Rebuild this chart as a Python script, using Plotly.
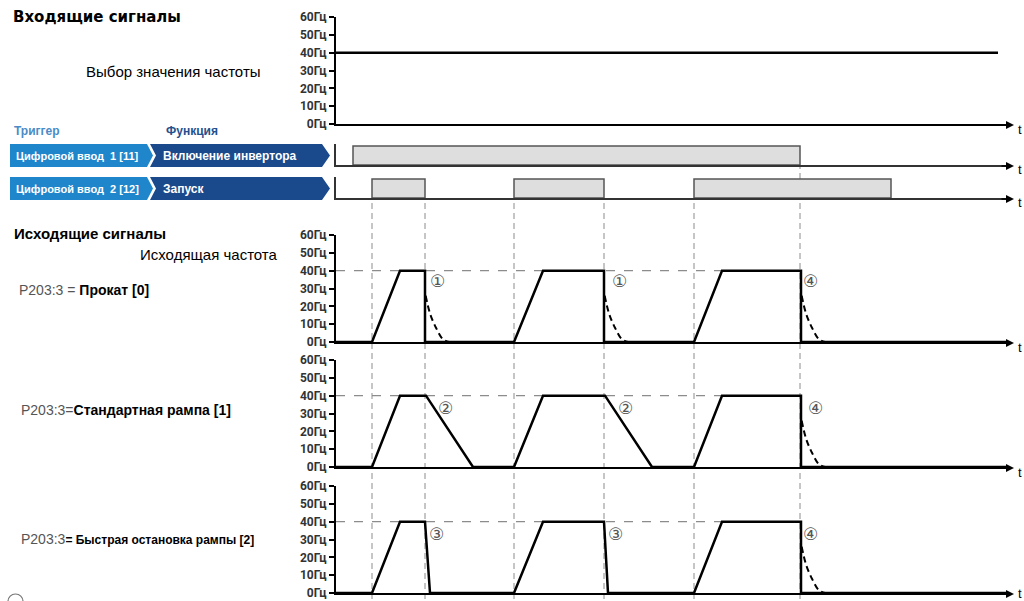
import plotly.graph_objects as go

W, H = 1024, 601


def PX(x):
    return x / W


def PY(y):
    return 1 - y / H


# ---------------- data ----------------
TIME_END = 67.0
FREQ_TICKS = [0, 10, 20, 30, 40, 50, 60]
FREQ_TICK_TEXT = ["0Гц", "10Гц", "20Гц", "30Гц", "40Гц", "50Гц", "60Гц"]

SETPOINT_T = [0, 66.2]
SETPOINT_F = [40, 40]

ENABLE_ON = 1.7
ENABLE_OFF = 46.4
START_ON = [3.6, 17.8, 35.8]
START_OFF = [8.9, 26.8, 55.5]
EDGE_TIMES = [3.6, 8.9, 17.8, 26.8, 35.8]

COAST_T = [0, 3.6, 6.4, 8.9, 8.9, 17.8, 20.7, 26.8, 26.8, 35.8, 38.6, 46.5, 46.5, 67.0]
COAST_F = [0, 0, 40, 40, 0, 0, 40, 40, 0, 0, 40, 40, 0, 0]
RAMP_T = [0, 3.6, 6.4, 9.0, 13.7, 17.8, 20.7, 26.9, 31.6, 35.8, 38.6, 46.5, 46.5, 67.0]
RAMP_F = [0, 0, 40, 40, 0, 0, 40, 40, 0, 0, 40, 40, 0, 0]
QSTOP_T = [0, 3.6, 6.4, 8.9, 9.4, 17.8, 20.7, 26.8, 27.2, 35.8, 38.6, 46.5, 46.5, 67.0]
QSTOP_F = [0, 0, 40, 40, 0, 0, 40, 40, 0, 0, 40, 40, 0, 0]

DECAY_DT = [0.07, 0.5, 1.1, 1.8, 2.4]
DECAY_F = [26, 16, 8, 1.5, 0]
COAST_STOPS = {"p1": [8.9, 26.8, 46.5], "p2": [46.5], "p3": [46.5]}

REF_T = [0, 46.5]
REF_F = [40, 40]

MARKS = {
    "p1": [("①", 10.1, 34), ("①", 28.3, 34), ("④", 47.4, 34)],
    "p2": [("②", 10.9, 33), ("②", 28.9, 33), ("④", 47.9, 33)],
    "p3": [("③", 10.0, 33), ("③", 27.9, 33), ("④", 47.4, 33)],
}

# ---------------- layout geometry (pixels) ----------------
X_LEFT, X_RIGHT = 336, 1006
PANELS = [
    # key, kind, baseline px, top px, t-label offset
    ("top", "freq", 124, 17, 5),
    ("in1", "dig", 165, 144, 5),
    ("in2", "dig", 198, 177, 5),
    ("p1", "freq", 342, 235, 5),
    ("p2", "freq", 467, 360, 5),
    ("p3", "freq", 593, 486, 0),
]

fig = go.Figure()
layout = dict(
    width=W, height=H, margin=dict(l=0, r=0, t=0, b=0, autoexpand=False),
    paper_bgcolor="white", plot_bgcolor="rgba(0,0,0,0)",
    showlegend=False,
)
axmap = {}
annotations = []
shapes = []

for i, (key, kind, base, top, toff) in enumerate(PANELS, start=1):
    xn = "xaxis" if i == 1 else f"xaxis{i}"
    yn = "yaxis" if i == 1 else f"yaxis{i}"
    xs = "x" if i == 1 else f"x{i}"
    ys = "y" if i == 1 else f"y{i}"
    axmap[key] = (xs, ys)
    layout[xn] = dict(
        domain=[PX(X_LEFT), PX(X_RIGHT)], range=[0, TIME_END], anchor=ys,
        showline=True, linecolor="black" if kind == "freq" else "#333",
        linewidth=2 if kind == "freq" else 1.6,
        showgrid=False, zeroline=False, showticklabels=False, ticks="",
    )
    if kind == "freq":
        layout[yn] = dict(
            domain=[PY(base), PY(top)], range=[0, 60], anchor=xs,
            showline=True, linecolor="black", linewidth=2,
            ticks="outside", ticklen=5, tickwidth=1.5, tickcolor="black",
            tickvals=FREQ_TICKS, ticktext=FREQ_TICK_TEXT,
            tickfont=dict(family="Roboto, Liberation Sans, sans-serif", size=12,
                          color="#333", weight="bold"),
            showgrid=False, zeroline=False,
        )
    else:
        layout[yn] = dict(
            domain=[PY(base), PY(top)], range=[0, 1.1], anchor=xs,
            showline=True, linecolor="#333", linewidth=1.6,
            ticks="", showticklabels=False, showgrid=False, zeroline=False,
        )
    # arrow at the end of time axis + 't'
    annotations.append(dict(
        x=PX(1014), y=PY(base + 1), xref="paper", yref="paper", text="",
        showarrow=True, ax=-14, ay=0, arrowhead=2, arrowsize=1, arrowwidth=1.6,
        arrowcolor="black",
    ))
    annotations.append(dict(
        x=PX(1016), y=PY(base + toff), xref="paper", yref="paper", text="t",
        showarrow=False, xanchor="left", yanchor="middle",
        font=dict(family="Liberation Sans", size=13, color="black"),
    ))

# ---------------- traces ----------------
xs, ys = axmap["top"]
fig.add_trace(go.Scatter(x=SETPOINT_T, y=SETPOINT_F, mode="lines", xaxis=xs, yaxis=ys,
                         line=dict(color="black", width=2.5), hoverinfo="skip"))

# digital inputs
xs, ys = axmap["in1"]
fig.add_trace(go.Scatter(x=[ENABLE_ON, ENABLE_ON, ENABLE_OFF, ENABLE_OFF, ENABLE_ON],
                         y=[0, 1, 1, 0, 0], mode="lines", fill="toself",
                         fillcolor="#dedede", line=dict(color="#555", width=1.5),
                         xaxis=xs, yaxis=ys, hoverinfo="skip"))
xs, ys = axmap["in2"]
for on, off in zip(START_ON, START_OFF):
    fig.add_trace(go.Scatter(x=[on, on, off, off, on], y=[0, 1, 1, 0, 0], mode="lines",
                             fill="toself", fillcolor="#dedede", line=dict(color="#555", width=1.5),
                             xaxis=xs, yaxis=ys, hoverinfo="skip"))

# outputs
for key, tt, ff in [("p1", COAST_T, COAST_F), ("p2", RAMP_T, RAMP_F), ("p3", QSTOP_T, QSTOP_F)]:
    xs, ys = axmap[key]
    fig.add_trace(go.Scatter(x=REF_T, y=REF_F, mode="lines", xaxis=xs, yaxis=ys,
                             line=dict(color="#8c8c8c", width=1.3, dash="dash"), hoverinfo="skip"))
    for t0 in COAST_STOPS[key]:
        fig.add_trace(go.Scatter(x=[t0 + d for d in DECAY_DT], y=DECAY_F, mode="lines",
                                 xaxis=xs, yaxis=ys,
                                 line=dict(color="black", width=2, dash="6px,4px"),
                                 line_shape="spline", hoverinfo="skip"))
    fig.add_trace(go.Scatter(x=tt, y=ff, mode="lines", xaxis=xs, yaxis=ys,
                             line=dict(color="black", width=2.5), hoverinfo="skip"))
    for txt, t, f in MARKS[key]:
        annotations.append(dict(x=t, y=f, xref=xs, yref=ys, text=txt, showarrow=False,
                                font=dict(family="DejaVu Sans", size=17, color="#555")))

# vertical dashed guide lines
for t in EDGE_TIMES:
    shapes.append(dict(type="line", xref="x", yref="paper", x0=t, x1=t,
                       y0=PY(599), y1=PY(199), line=dict(color="#8c8c8c", width=1, dash="6px,4px"),
                       layer="below"))
shapes.append(dict(type="line", xref="x", yref="paper", x0=ENABLE_OFF, x1=ENABLE_OFF,
                   y0=PY(599), y1=PY(166), line=dict(color="#8c8c8c", width=1, dash="6px,4px"),
                   layer="below"))

# chevron banners
LIGHT = "#1f86cc"
DARK = "#1b4a8c"
for top_px, bot_px in [(144, 167), (177, 200)]:
    mid = (top_px + bot_px) / 2
    p1 = f"M {PX(10)},{PY(top_px)} L {PX(147)},{PY(top_px)} L {PX(153)},{PY(mid)} L {PX(147)},{PY(bot_px)} L {PX(10)},{PY(bot_px)} Z"
    p2 = f"M {PX(150)},{PY(top_px)} L {PX(322)},{PY(top_px)} L {PX(330)},{PY(mid)} L {PX(322)},{PY(bot_px)} L {PX(150)},{PY(bot_px)} L {PX(156)},{PY(mid)} Z"
    shapes.append(dict(type="path", xref="paper", yref="paper", path=p1, fillcolor=LIGHT,
                       line=dict(width=0), layer="below"))
    shapes.append(dict(type="path", xref="paper", yref="paper", path=p2, fillcolor=DARK,
                       line=dict(width=0), layer="below"))

# partially visible circled marker at the bottom-left edge
shapes.append(dict(type="circle", xref="paper", yref="paper",
                   x0=PX(8), x1=PX(23), y0=PY(609), y1=PY(594),
                   line=dict(color="#777", width=1.2), layer="above"))


def label(x, y, text, size, color="black", family="Liberation Sans", bold=False):
    annotations.append(dict(
        x=PX(x), y=PY(y), xref="paper", yref="paper", text=f"<b>{text}</b>" if bold else text,
        showarrow=False, xanchor="left", yanchor="middle",
        font=dict(family=family, size=size, color=color),
    ))


label(11, 17, "Входящие сигналы", 15, family="DejaVu Sans", bold=True)
label(84, 71, "Выбор значения частоты", 15)
label(12, 131, "Триггер", 12, color="#4a8cc6", bold=True)
label(164, 131, "Функция", 12, color="#24508e", bold=True)
label(14, 156, "Цифровой ввод  1 [11]", 11, color="white", bold=True)
label(161, 156, "Включение инвертора", 12, color="white", bold=True)
label(14, 189, "Цифровой ввод  2 [12]", 11, color="white", bold=True)
label(161, 189, "Запуск", 12, color="white", bold=True)
label(12, 233, "Исходящие сигналы", 15, bold=True)
label(138, 254, "Исходящая частота", 15)
label(17, 290, "<span style='color:#555'>P203:3 = </span><b>Прокат [0]</b>", 14)
label(19, 410, "<span style='color:#555'>P203:3=</span><b>Стандартная рампа [1]</b>", 14)
label(19, 539, "<span style='color:#555'>P203:3</span><b><span style='font-size:12px'>= Быстрая остановка рампы [2]</span></b>", 14)

layout["annotations"] = annotations
layout["shapes"] = shapes
fig.update_layout(**layout)
fig.write_html("out.html", config={"displayModeBar": False},
               post_script="document.body.style.margin='0';document.body.style.overflow='hidden';")
